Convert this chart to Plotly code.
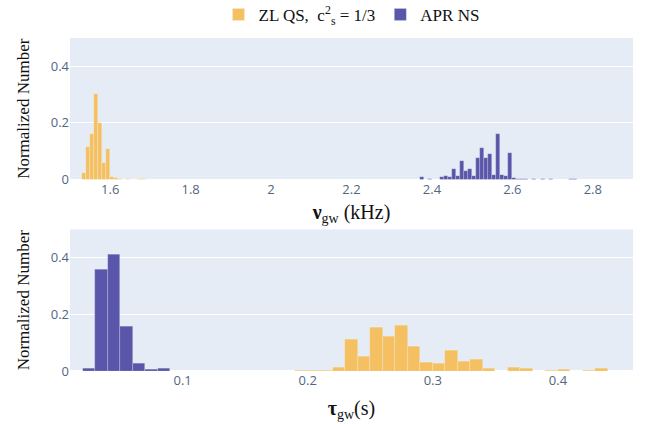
import plotly.graph_objects as go
from plotly.subplots import make_subplots

# Histogram bins: left edge of the first bin, common bin width, normalized counts
BIN_WIDTH_NU = 0.01   # kHz
BIN_WIDTH_TAU = 0.01  # s

zl_nu_start = 1.53
zl_nu_counts = [0.022, 0.114, 0.161, 0.302, 0.200, 0.058, 0.107, 0.008,
                0.004, 0.002, 0.0, 0.002, 0.0, 0.0, 0.003, 0.003]

apr_nu_start = 2.37
apr_nu_counts = [0.008, 0.0, 0.002, 0.0, 0.0, 0.008, 0.013, 0.010, 0.038,
                 0.014, 0.067, 0.030, 0.037, 0.014, 0.076, 0.113, 0.077,
                 0.090, 0.015, 0.161, 0.015, 0.011, 0.093, 0.004, 0.002,
                 0.001, 0.001, 0.0, 0.001, 0.0, 0.001, 0.0, 0.001, 0.0,
                 0.0, 0.0, 0.0, 0.002, 0.002]

apr_tau_start = 0.02
apr_tau_counts = [0.008, 0.357, 0.412, 0.156, 0.026, 0.005, 0.008]

zl_tau_start = 0.19
zl_tau_counts = [0.0035, 0.001, 0.002, 0.012, 0.112, 0.053, 0.154, 0.121,
                 0.162, 0.085, 0.031, 0.028, 0.073, 0.034, 0.039, 0.009,
                 0.0, 0.014, 0.009, 0.0, 0.002, 0.005, 0.0, 0.001, 0.009]

series_names = ["ZL QS,  c<sup>2</sup><sub>s</sub> = 1/3", "APR NS"]
colors = ["#F4C062", "#5A57AA"]

y_ticks = [0, 0.2, 0.4]
y_tick_text = ["0", "0.2", "0.4"]
nu_range = [1.5, 2.9]
tau_range = [0.01, 0.46]

SERIF = "Liberation Serif, Times New Roman, serif"


def centers(start, width, counts):
    return [start + width * (i + 0.5) for i in range(len(counts))]


fig = make_subplots(rows=2, cols=1, vertical_spacing=0.15)

panels = [
    (1, zl_nu_start, BIN_WIDTH_NU, zl_nu_counts, 0, True),
    (1, apr_nu_start, BIN_WIDTH_NU, apr_nu_counts, 1, True),
    (2, apr_tau_start, BIN_WIDTH_TAU, apr_tau_counts, 1, False),
    (2, zl_tau_start, BIN_WIDTH_TAU, zl_tau_counts, 0, False),
]
for row, start, width, counts, k, show in panels:
    fig.add_trace(
        go.Bar(
            x=centers(start, width, counts),
            y=counts,
            width=width,
            name=series_names[k],
            legendgroup=series_names[k],
            showlegend=show,
            marker=dict(color=colors[k],
                        line=dict(width=0.6, color="rgba(255,255,255,0.35)")),
        ),
        row=row, col=1,
    )

fig.update_layout(
    template="plotly",
    width=646, height=424,
    margin=dict(l=70, r=13, t=38, b=53, autoexpand=False),
    barmode="overlay",
    bargap=0,
    font=dict(family="Open Sans, sans-serif", size=12, color="#2a3f5f"),
    legend=dict(orientation="h", x=0.5, xanchor="center",
                yref="container", y=0.965, yanchor="middle",
                font=dict(family=SERIF, size=17, color="#111"),
                itemwidth=30, traceorder="normal"),
)

fig.update_yaxes(range=[0, 0.5], tickvals=y_ticks, ticktext=y_tick_text,
                 title=dict(text="Normalized Number",
                            font=dict(family=SERIF, size=17, color="#111"),
                            standoff=16),
                 tickfont=dict(size=13, color="#506784"))

fig.update_xaxes(range=nu_range, dtick=0.2, tick0=1.6,
                 tickfont=dict(size=13, color="#506784"),
                 title=dict(text="<b>ν</b><sub>gw</sub> (kHz)",
                            font=dict(family=SERIF, size=20, color="#111"),
                            standoff=8),
                 row=1, col=1)
fig.update_xaxes(range=tau_range, dtick=0.1, tick0=0.1,
                 tickfont=dict(size=13, color="#506784"),
                 title=dict(text="<b>τ</b><sub>gw</sub>(s)",
                            font=dict(family=SERIF, size=20, color="#111"),
                            standoff=12),
                 row=2, col=1)

fig.write_html("out.html")
